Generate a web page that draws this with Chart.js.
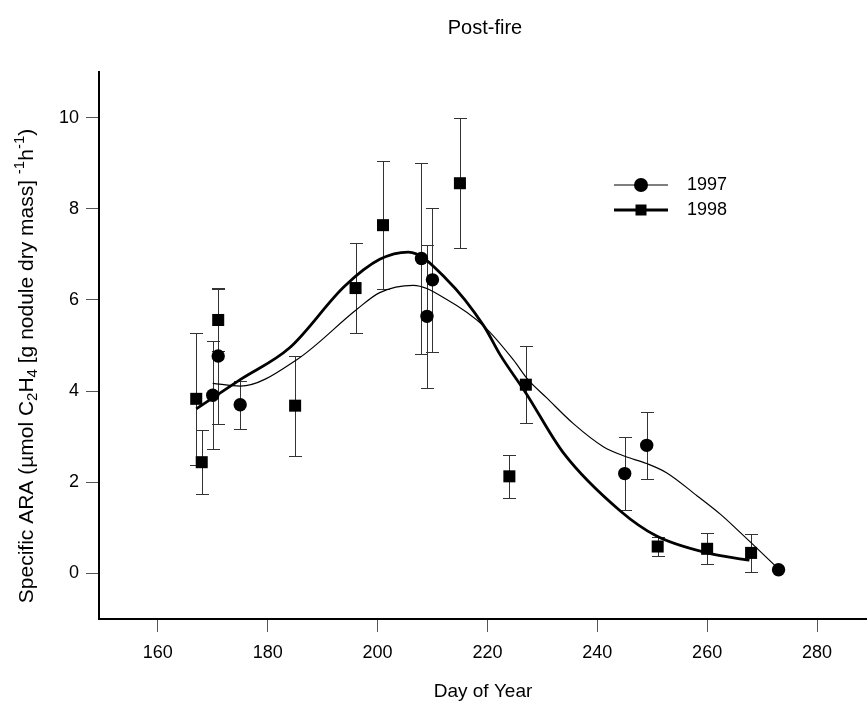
<!DOCTYPE html>
<html lang="en">
<head>
    <meta charset="UTF-8">
    <title>Post-fire</title>
    <script src="https://cdn.jsdelivr.net/npm/chart.js"></script>
    <style>
        body {
            margin: 0;
            background: #fff;
        }
        #wrap {
            width: 867px;
            height: 709px;
        }
    </style>
</head>
<body>
    <div id="wrap"><canvas id="myChart"></canvas></div>
    <script>
        // 1997 measurements (circles)
        var days97 = [170, 171, 175, 208, 209, 210, 245, 249, 273];
        var ara97 = [3.91, 4.77, 3.70, 6.91, 5.64, 6.44, 2.19, 2.81, 0.08];
        var err97 = [1.18, 1.49, 0.53, 2.10, 1.57, 1.58, 0.80, 0.73, 0];

        // 1998 measurements (squares)
        var days98 = [167, 168, 171, 185, 196, 201, 215, 224, 227, 251, 260, 268];
        var ara98 = [3.83, 2.44, 5.56, 3.68, 6.26, 7.64, 8.56, 2.13, 4.14, 0.59, 0.54, 0.45];
        var err98 = [1.45, 0.70, 0.68, 1.10, 0.98, 1.40, 1.42, 0.47, 0.85, 0.20, 0.34, 0.42];

        // fitted curves
        var fitDays97 = [170, 175, 185.3, 196.2, 200.4, 206.5, 212.6, 219.4, 224.7, 227.4, 230.8, 235.7, 241.1, 245, 249, 252.6, 258.2, 262.5, 266.1, 273];
        var fit97 = [4.17, 4.11, 4.69, 5.79, 6.16, 6.32, 6.01, 5.42, 4.69, 4.25, 3.85, 3.28, 2.78, 2.57, 2.41, 2.21, 1.70, 1.29, 0.89, 0.10];
        var fitDays98 = [167, 175, 184, 194, 200.4, 205.6, 212.6, 219.4, 222.3, 227, 233.8, 244.2, 250.8, 260, 267.7];
        var fit98 = [3.61, 4.25, 4.95, 6.30, 6.89, 7.05, 6.45, 5.42, 4.80, 3.96, 2.65, 1.37, 0.82, 0.45, 0.29];

        var xTicks = [160, 180, 200, 220, 240, 260, 280];
        var yTicks = [0, 2, 4, 6, 8, 10];
        var seriesNames = ['1997', '1998'];

        var FONT = 'Liberation Sans, Arial, sans-serif';

        function pts(xs, ys) {
            return xs.map(function(x, i) { return { x: x, y: ys[i] }; });
        }

        // error bars drawn below the markers
        var errorBars = {
            id: 'errorBars',
            beforeDatasetsDraw: function(chart) {
                var ctx = chart.ctx, xs = chart.scales.x, ys = chart.scales.y;
                ctx.save();
                ctx.strokeStyle = '#333';
                ctx.lineWidth = 1;
                [[days97, ara97, err97], [days98, ara98, err98]].forEach(function(s) {
                    s[0].forEach(function(d, i) {
                        if (!s[2][i]) return;
                        var px = Math.round(xs.getPixelForValue(d)) + 0.5;
                        var top = Math.round(ys.getPixelForValue(s[1][i] + s[2][i])) + 0.5;
                        var bot = Math.round(ys.getPixelForValue(s[1][i] - s[2][i])) + 0.5;
                        ctx.beginPath();
                        ctx.moveTo(px, top); ctx.lineTo(px, bot);
                        ctx.moveTo(px - 6.5, top); ctx.lineTo(px + 6.5, top);
                        ctx.moveTo(px - 6.5, bot); ctx.lineTo(px + 6.5, bot);
                        ctx.stroke();
                    });
                });
                ctx.restore();
            }
        };

        // title, y-axis label with sub/superscripts, legend
        var decorations = {
            id: 'decorations',
            afterDraw: function(chart) {
                var ctx = chart.ctx;
                ctx.save();
                ctx.fillStyle = '#000';
                ctx.font = '20px ' + FONT;
                ctx.textAlign = 'center';
                ctx.textBaseline = 'middle';
                ctx.fillText('Post-fire', 485, 28);

                // y-axis title
                var parts = [
                    ['Specific ARA (\u00b5mol C', 0], ['2', 1], ['H', 0], ['4', 1],
                    [' [g nodule dry mass] ', 0], ['-1', -1], ['h', 0], ['-1', -1], [')', 0]
                ];
                var big = 21, small = 15;
                var total = 0;
                parts.forEach(function(p) {
                    ctx.font = (p[1] ? small : big) + 'px ' + FONT;
                    p.push(ctx.measureText(p[0]).width);
                    total += p[2];
                });
                ctx.translate(27, 366);
                ctx.rotate(-Math.PI / 2);
                ctx.textAlign = 'left';
                var cx = -total / 2;
                parts.forEach(function(p) {
                    ctx.font = (p[1] ? small : big) + 'px ' + FONT;
                    var dy = p[1] === 1 ? 6 : (p[1] === -1 ? -7 : 0);
                    ctx.fillText(p[0], cx, dy);
                    cx += p[2];
                });
                ctx.restore();

                // legend
                ctx.save();
                ctx.fillStyle = '#000';
                ctx.strokeStyle = '#000';
                ctx.font = '18px ' + FONT;
                ctx.textBaseline = 'middle';
                var rows = [185, 210];
                rows.forEach(function(y, i) {
                    ctx.lineWidth = i === 0 ? 1.2 : 2.8;
                    ctx.beginPath();
                    ctx.moveTo(614, y); ctx.lineTo(668, y);
                    ctx.stroke();
                    ctx.beginPath();
                    if (i === 0) {
                        ctx.arc(641, y, 7, 0, Math.PI * 2);
                    } else {
                        ctx.rect(635.5, y - 5.5, 11, 11);
                    }
                    ctx.fill();
                    ctx.fillText(seriesNames[i], 687, y);
                });
                ctx.restore();
            }
        };

        var ctx = document.getElementById('myChart').getContext('2d');
        var myChart = new Chart(ctx, {
            type: 'scatter',
            data: {
                datasets: [{
                    label: seriesNames[0] + ' fit',
                    data: pts(fitDays97, fit97),
                    showLine: true,
                    borderColor: '#000',
                    borderWidth: 1.2,
                    pointRadius: 0,
                    cubicInterpolationMode: 'monotone'
                }, {
                    label: seriesNames[1] + ' fit',
                    data: pts(fitDays98, fit98),
                    showLine: true,
                    borderColor: '#000',
                    borderWidth: 2.8,
                    pointRadius: 0,
                    cubicInterpolationMode: 'monotone'
                }, {
                    label: seriesNames[0],
                    data: pts(days97, ara97),
                    pointStyle: 'circle',
                    pointRadius: 6.7,
                    pointBorderWidth: 0,
                    backgroundColor: '#000',
                    borderColor: '#000'
                }, {
                    label: seriesNames[1],
                    data: pts(days98, ara98),
                    pointStyle: 'rect',
                    pointRadius: 8.5,
                    pointBorderWidth: 0,
                    backgroundColor: '#000',
                    borderColor: '#000'
                }]
            },
            options: {
                responsive: true,
                maintainAspectRatio: false,
                animation: false,
                layout: { autoPadding: false, padding: { top: 72, right: 0, left: 0, bottom: 0 } },
                plugins: {
                    legend: { display: false },
                    tooltip: { enabled: false }
                },
                scales: {
                    x: {
                        type: 'linear',
                        min: 149.3,
                        max: 289.1,
                        afterBuildTicks: function(s) { s.ticks = xTicks.map(function(v) { return { value: v }; }); },
                        afterFit: function(s) { s.height = 90; },
                        border: { display: true, color: '#000', width: 2 },
                        grid: { drawOnChartArea: false, drawTicks: true, tickLength: 13, color: '#555' },
                        ticks: { color: '#000', font: { family: FONT, size: 18 }, padding: 10, maxRotation: 0 },
                        title: {
                            display: true,
                            text: 'Day of Year',
                            color: '#000',
                            font: { family: FONT, size: 19 },
                            padding: { top: 0, bottom: 6 }
                        }
                    },
                    y: {
                        type: 'linear',
                        min: -1,
                        max: 11,
                        afterBuildTicks: function(s) { s.ticks = yTicks.map(function(v) { return { value: v }; }); },
                        afterFit: function(s) { s.width = 99; },
                        border: { display: true, color: '#000', width: 2 },
                        grid: { drawOnChartArea: false, drawTicks: true, tickLength: 13, color: '#555' },
                        ticks: { color: '#000', font: { family: FONT, size: 18 }, padding: 7 }
                    }
                }
            },
            plugins: [errorBars, decorations]
        });
    </script>
</body>
</html>
